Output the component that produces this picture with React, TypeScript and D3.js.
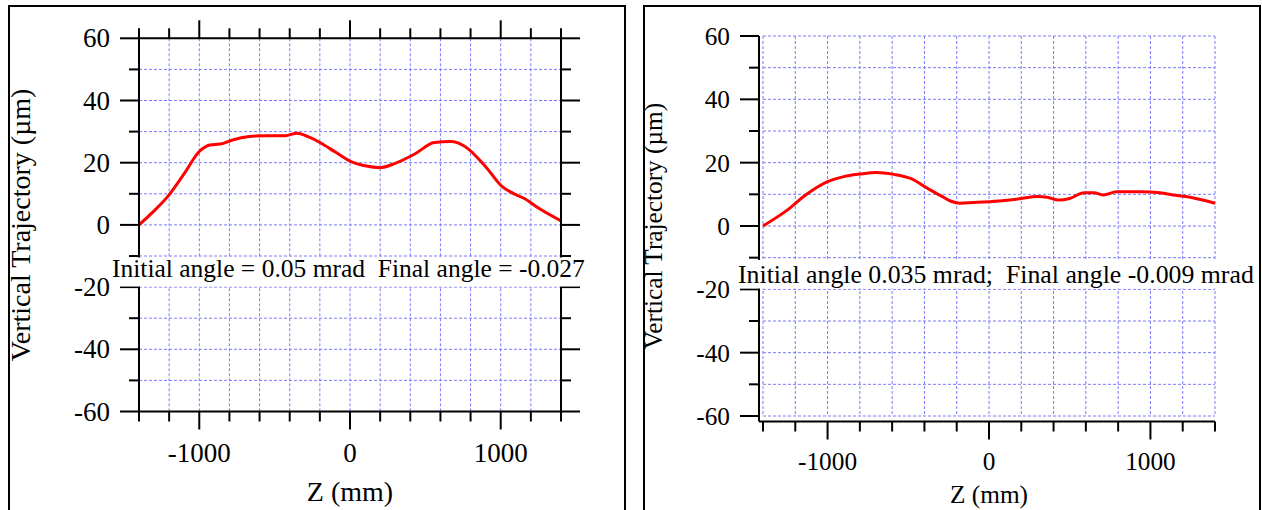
import React from 'react';
import * as d3 from 'd3';

// ---------- data ----------
const leftZ = [-1400, -1300, -1210, -1100, -1000, -930, -860, -780, -670, -560, -430, -350, -270, -200, -100, 0, 100, 200, 300, 430, 560, 670, 760, 900, 1010, 1080, 1160, 1250, 1400];
const leftV = [0, 4.5, 9.1, 16.5, 23.6, 25.7, 26, 27.3, 28.4, 28.7, 28.7, 29.5, 28.2, 26.5, 23.5, 20.5, 19, 18.4, 19.8, 22.8, 26.5, 26.8, 25.3, 18.7, 12.3, 10.2, 8.4, 5.4, 1.3];

const rightZ = [-1400, -1250, -1130, -1000, -900, -800, -700, -590, -490, -365, -300, -240, -180, -100, 60, 190, 300, 360, 430, 500, 590, 650, 710, 790, 940, 1060, 1140, 1220, 1400];
const rightV = [0, 5, 10, 14, 15.6, 16.4, 16.9, 16.3, 15.1, 11.4, 9.6, 7.9, 7.2, 7.4, 7.9, 8.6, 9.3, 9.1, 8.2, 8.7, 10.5, 10.5, 9.8, 10.8, 10.8, 10.5, 9.8, 9.3, 7.2];

const xDomain = [-1400, 1400];
const yDomain = [-60, 60];
const xMajorTicks = [-1000, 0, 1000];
const xAllTicks = [-1400, -1200, -1000, -800, -600, -400, -200, 0, 200, 400, 600, 800, 1000, 1200, 1400];
const yMajorTicks = [-60, -40, -20, 0, 20, 40, 60];
const yAllTicks = [-60, -50, -40, -30, -20, -10, 0, 10, 20, 30, 40, 50, 60];

const leftNote = 'Initial angle = 0.05 mrad  Final angle = -0.027';
const rightNote = 'Initial angle 0.035 mrad;  Final angle -0.009 mrad';
const xTitle = 'Z (mm)';
const yTitle = 'Vertical Trajectory (µm)';

const FONT = 'Liberation Serif';
const GRID = '#7b7bff';

type Cfg = {
  frameX: number; frameY: number; frameW: number;
  px0: number; px1: number; py0: number; py1: number;
  axisX: number; axisY: number; mirror: boolean;
  tickFont: number; titleFont: number; noteFont: number;
  yLabelX: number; xLabelY: number; xTitleY: number; yTitleX: number; yTitleY: number;
  note: string; noteX: number; noteY: number; box: [number, number, number, number];
  z: number[]; v: number[];
};

function Panel({ c }: { c: Cfg }) {
  const x = d3.scaleLinear().domain(xDomain).range([c.px0, c.px1]);
  const y = d3.scaleLinear().domain(yDomain).range([c.py1, c.py0]);
  const pts = c.z.map((z, i) => [z, c.v[i]] as [number, number]);
  const line = d3.line<[number, number]>().x(d => x(d[0])).y(d => y(d[1])).curve(d3.curveMonotoneX);
  const isXMaj = (t: number) => xMajorTicks.includes(t);
  const isYMaj = (t: number) => yMajorTicks.includes(t);
  const xLen = (t: number) => (isXMaj(t) ? 18 : 10);
  const yLen = (t: number) => (isYMaj(t) ? 19 : 10);
  const sw = 2;
  const tickStyle = { fontFamily: FONT, fontSize: c.tickFont } as React.CSSProperties;
  const titleStyle = { fontFamily: FONT, fontSize: c.titleFont } as React.CSSProperties;
  return (
    <g>
      <rect x={c.frameX} y={c.frameY} width={c.frameW} height={600} fill="none" stroke="#000" strokeWidth={2} />
      {/* grid */}
      <g stroke={GRID} strokeWidth={1} strokeDasharray="3,2">
        {xAllTicks.map(t => (
          <line key={'gx' + t} x1={x(t)} x2={x(t)} y1={c.py0} y2={c.py1} />
        ))}
        {yAllTicks.map(t => (
          <line key={'gy' + t} x1={c.px0} x2={c.px1} y1={y(t)} y2={y(t)} />
        ))}
      </g>
      {/* curve */}
      <path d={line(pts) || ''} fill="none" stroke="#ff0000" strokeWidth={3} strokeLinejoin="round" />
      {/* axes */}
      <g stroke="#000" strokeWidth={sw}>
        <line x1={c.axisX} x2={c.axisX} y1={c.py0} y2={c.axisY} />
        <line x1={c.axisX} x2={c.px1} y1={c.axisY} y2={c.axisY} />
        {yAllTicks.map(t => (
          <line key={'ly' + t} x1={c.axisX - yLen(t)} x2={c.axisX} y1={y(t)} y2={y(t)} />
        ))}
        {xAllTicks.map(t => (
          <line key={'bx' + t} x1={x(t)} x2={x(t)} y1={c.axisY} y2={c.axisY + xLen(t)} />
        ))}
        {c.mirror && (
          <g>
            <line x1={c.px1} x2={c.px1} y1={c.py0} y2={c.py1} />
            <line x1={c.px0} x2={c.px1} y1={c.py0} y2={c.py0} />
            {yAllTicks.map(t => (
              <line key={'ry' + t} x1={c.px1} x2={c.px1 + yLen(t)} y1={y(t)} y2={y(t)} />
            ))}
            {xAllTicks.map(t => (
              <line key={'tx' + t} x1={x(t)} x2={x(t)} y1={c.py0} y2={c.py0 - xLen(t)} />
            ))}
          </g>
        )}
      </g>
      {/* tick labels */}
      <g fill="#000">
        {yMajorTicks.map(t => (
          <text key={'yl' + t} x={c.yLabelX} y={y(t)} textAnchor="end" dominantBaseline="central" style={tickStyle}>{t}</text>
        ))}
        {xMajorTicks.map(t => (
          <text key={'xl' + t} x={x(t)} y={c.xLabelY} textAnchor="middle" style={tickStyle}>{t}</text>
        ))}
      </g>
      <text x={x(0)} y={c.xTitleY} textAnchor="middle" style={titleStyle}>{xTitle}</text>
      <text transform={`translate(${c.yTitleX},${c.yTitleY}) rotate(-90)`} textAnchor="middle" style={titleStyle}>{yTitle}</text>
      {/* annotation */}
      <rect x={c.box[0]} y={c.box[1]} width={c.box[2]} height={c.box[3]} fill="#fff" />
      <text x={c.noteX} y={c.noteY} style={{ fontFamily: FONT, fontSize: c.noteFont, whiteSpace: 'pre' }}>{c.note}</text>
    </g>
  );
}

const leftCfg: Cfg = {
  frameX: 9, frameY: 6, frameW: 616,
  px0: 139, px1: 561, py0: 38.3, py1: 411.5,
  axisX: 139, axisY: 411.5, mirror: true,
  tickFont: 27, titleFont: 28, noteFont: 25.5,
  yLabelX: 110, xLabelY: 462, xTitleY: 501, yTitleX: 30, yTitleY: 225,
  note: leftNote, noteX: 112, noteY: 277, box: [110, 257.5, 478, 29],
  z: leftZ, v: leftV,
};

const rightCfg: Cfg = {
  frameX: 644, frameY: 6, frameW: 616,
  px0: 763, px1: 1215, py0: 36, py1: 416,
  axisX: 759, axisY: 421.5, mirror: false,
  tickFont: 25.3, titleFont: 25.3, noteFont: 25.8,
  yLabelX: 730, xLabelY: 470, xTitleY: 503, yTitleX: 662, yTitleY: 226,
  note: rightNote, noteX: 738, noteY: 283, box: [735, 260, 522, 28.5],
  z: rightZ, v: rightV,
};

export default function App() {
  return (
    <svg width={1262} height={510} style={{ position: 'absolute', left: 0, top: 0, background: '#fff' }}>
      <rect x={0} y={0} width={1262} height={510} fill="#fff" />
      <Panel c={leftCfg} />
      <Panel c={rightCfg} />
    </svg>
  );
}
